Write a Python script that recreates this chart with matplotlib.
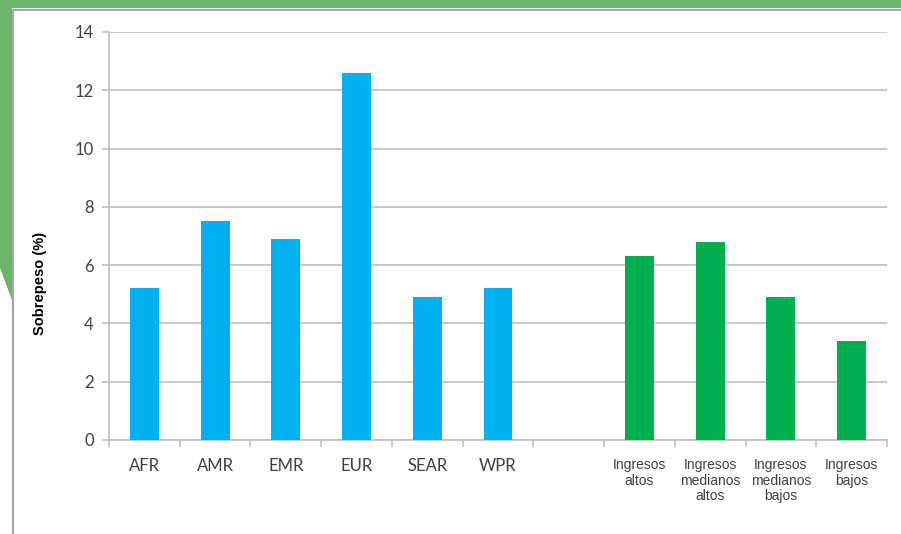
import matplotlib.pyplot as plt
from matplotlib.patches import Polygon, Rectangle
from matplotlib.lines import Line2D

# --- datos ---
regiones = ['AFR', 'AMR', 'EMR', 'EUR', 'SEAR', 'WPR']
valores_regiones = [5.2, 7.5, 6.9, 12.6, 4.9, 5.2]

ingresos = ['Ingresos\naltos', 'Ingresos\nmedianos\naltos',
            'Ingresos\nmedianos\nbajos', 'Ingresos\nbajos']
valores_ingresos = [6.3, 6.8, 4.9, 3.4]

etiquetas_y = [0, 2, 4, 6, 8, 10, 12, 14]

azul = '#00B0F0'
verde = '#00B050'
gris = '#BFBFBF'

W, H = 901, 534
fig = plt.figure(figsize=(W / 100, H / 100), dpi=100)

# fondo decorativo (diapositiva)
bg = fig.add_axes([0, 0, 1, 1], zorder=-1)
bg.set_xlim(0, W)
bg.set_ylim(H, 0)
bg.axis('off')
bg.add_patch(Rectangle((0, 0), W, 8, color='#6DB36A', lw=0))
bg.add_patch(Polygon([(0, 0), (12, 0), (12, 300), (0, 268)], closed=True,
                     color='#6DB36A', lw=0))
bg.add_line(Line2D([12, W], [9.5, 9.5], color='#A6A6A6', lw=1.5))
bg.add_line(Line2D([12.5, 12.5], [9.5, H], color='#A6A6A6', lw=1.5))

# --- gráfico ---
ax = fig.add_axes([109 / W, 1 - 440 / H, (887 - 109) / W, (440 - 32) / H])

n_reg = len(regiones)
x_reg = list(range(n_reg))
x_ing = [n_reg + 1 + i for i in range(len(ingresos))]
n_total = n_reg + 1 + len(ingresos)

ax.bar(x_reg, valores_regiones, width=0.41, color=azul, zorder=3)
ax.bar(x_ing, valores_ingresos, width=0.41, color=verde, zorder=3)

ax.set_xlim(-0.5, n_total - 0.5)
ax.set_ylim(0, 14)
ax.set_yticks(etiquetas_y)
ax.grid(axis='y', color=gris, lw=1.2, zorder=0)

for s in ['top', 'right']:
    ax.spines[s].set_visible(False)
for s in ['left', 'bottom']:
    ax.spines[s].set_color(gris)
    ax.spines[s].set_linewidth(1.2)

ax.set_xticks(x_reg + [n_reg] + x_ing)
ax.set_xticklabels(regiones + [''] + ingresos)
ax.set_xticks([i - 0.5 for i in range(n_total + 1)], minor=True)
ax.tick_params(axis='x', which='major', length=0, pad=13)
ax.tick_params(axis='x', which='minor', length=5, color=gris, width=1.2)
ax.tick_params(axis='y', length=5, color=gris, width=1.2, pad=6,
               labelsize=12, labelcolor='#404040')

for lbl in ax.get_yticklabels():
    lbl.set_family(['Lato', 'DejaVu Sans'])
for i, lbl in enumerate(ax.get_xticklabels()):
    if i < n_reg:
        lbl.set_family(['Lato', 'DejaVu Sans'])
        lbl.set_fontsize(12)
        lbl.set_color('#404040')
    else:
        lbl.set_family(['Liberation Sans Narrow', 'Liberation Sans'])
        lbl.set_fontsize(10)
        lbl.set_linespacing(1.15)
        lbl.set_color('#404040')
        lbl.set_va('top')

fig.text(40 / W, 1 - 283 / H, 'Sobrepeso (%)', rotation=90, ha='center',
         va='center', fontsize=10.5, fontweight='bold',
         family=['Liberation Sans', 'DejaVu Sans'], color='#000000')

fig.savefig('out.png', dpi=100)
